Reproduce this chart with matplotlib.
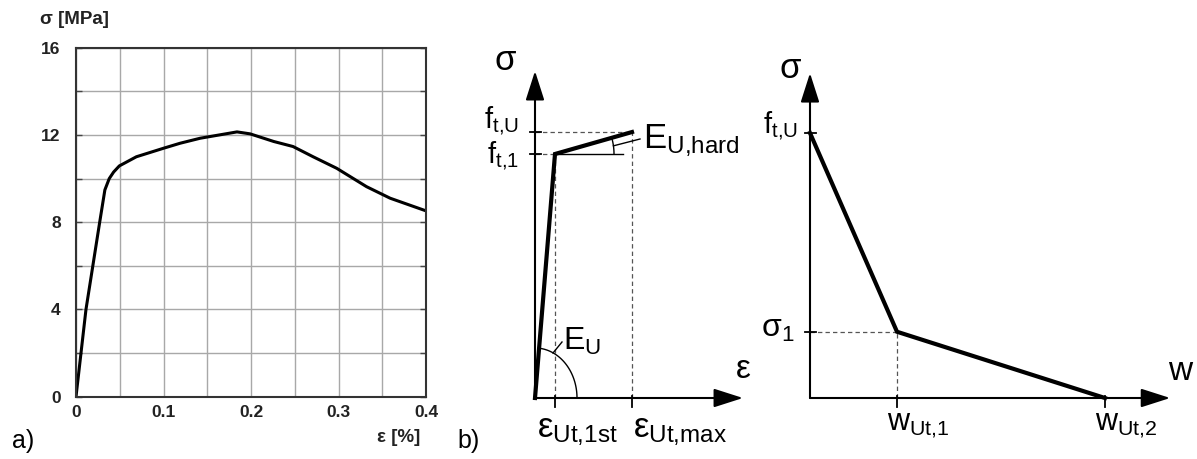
import numpy as np
import matplotlib
matplotlib.use("Agg")
import matplotlib.pyplot as plt

plt.rcParams['font.family'] = ['Liberation Sans', 'DejaVu Sans']
plt.rcParams['mathtext.fontset'] = 'custom'
plt.rcParams['mathtext.rm'] = 'Liberation Sans'
plt.rcParams['mathtext.it'] = 'Liberation Sans'
plt.rcParams['mathtext.bf'] = 'Liberation Sans:bold'

# ---- panel a: measured stress-strain curve ----
strain = [0.0, 0.0114, 0.027, 0.033, 0.038, 0.043, 0.0495, 0.069, 0.100, 0.119,
          0.142, 0.184, 0.199, 0.226, 0.248, 0.271, 0.298, 0.332, 0.359, 0.400]
stress = [0.0, 4.0, 7.98, 9.48, 10.0, 10.3, 10.58, 11.0, 11.39, 11.62,
          11.85, 12.14, 12.05, 11.70, 11.47, 11.0, 10.47, 9.63, 9.10, 8.52]
x_ticks = [0, 0.1, 0.2, 0.3, 0.4]
x_labels = ['0', '0.1', '0.2', '0.3', '0.4']
y_ticks = [0, 4, 8, 12, 16]

# ---- panel b: tensile model (schematic units) ----
eps_pts = [0.0, 1.0, 4.85]      # 0, eps_Ut,1st, eps_Ut,max
sig_pts = [0.0, 10.0, 10.9]     # 0, f_t,1, f_t,U

# ---- panel c: softening model (schematic units) ----
w_pts = [0.0, 1.0, 3.39]        # 0, w_Ut,1, w_Ut,2
sw_pts = [1.0, 0.25, 0.0]       # f_t,U, sigma_1, 0

W, H = 1197, 459
fig = plt.figure(figsize=(W / 100, H / 100), dpi=100)


def rect(x0, y0, x1, y1):
    # pixel box (top-left origin) -> figure fraction
    return [x0 / W, 1 - y1 / H, (x1 - x0) / W, (y1 - y0) / H]


# ================= a) =================
ax = fig.add_axes(rect(76, 47.7, 426, 396.7))
ax.plot(strain, stress, color='black', lw=2.2, solid_joinstyle='round')
ax.set_xlim(0, 0.4)
ax.set_ylim(0, 16)
ax.set_xticks(x_ticks)
ax.set_xticklabels(x_labels)
ax.set_yticks(y_ticks)
ax.set_xticks(np.arange(0.05, 0.4, 0.1), minor=True)
ax.set_yticks(np.arange(2, 16, 4), minor=True)
ax.grid(True, which='both', color='#a8a8a8', lw=1.0)
ax.set_axisbelow(True)
ax.tick_params(which='both', direction='in', length=4, width=1, color='#444',
               left=True, right=True, top=False, bottom=False)
ax.tick_params(axis='y', pad=11, labelsize=12.5)
ax.tick_params(axis='x', pad=6, labelsize=12.5)
for lab in ax.get_xticklabels() + ax.get_yticklabels():
    lab.set_fontweight('bold')
    lab.set_color('#222')
for s in ax.spines.values():
    s.set_linewidth(1.5)
    s.set_color('#333')

fig.text(40 / W, 1 - 19 / H, 'σ [MPa]', fontsize=13.5, fontweight='bold',
         ha='left', va='center', color='#222')
fig.text(420 / W, 1 - 438 / H, 'ε [%]', fontsize=13.5, fontweight='bold',
         ha='right', va='center', color='#222')
fig.text(12 / W, 1 - 441 / H, 'a)', fontsize=18, ha='left', va='center')
fig.text(457 / W, 1 - 441 / H, 'b)', fontsize=18, ha='left', va='center')

dash_kw = dict(color='#555', lw=0.9, dashes=(3.5, 2.5), clip_on=False)
arrow_kw = dict(arrowstyle='-|>,head_length=1.0,head_width=0.32',
                mutation_scale=18, color='black', lw=1.5, shrinkA=0, shrinkB=0)


def schematic_axes(ax, xend, yend):
    ax.set_axis_off()
    ax.annotate('', xy=(xend, 0), xytext=(0, 0), arrowprops=arrow_kw,
                annotation_clip=False)
    ax.annotate('', xy=(0, yend), xytext=(0, 0), arrowprops=arrow_kw,
                annotation_clip=False)


# ================= b) =================
bx = fig.add_axes(rect(535, 40, 760, 398))
px_x, px_y = 20.0, 24.4           # pixels per schematic unit
bx.set_xlim(0, 225 / px_x)
bx.set_ylim(0, 358 / px_y)
schematic_axes(bx, 10.4, 13.4)

e1, emax = eps_pts[1], eps_pts[2]
ft1, ftu = sig_pts[1], sig_pts[2]
bx.plot([0, emax], [ftu, ftu], **dash_kw)
bx.plot([0, e1], [ft1, ft1], **dash_kw)
bx.plot([e1, e1], [0, ft1], **dash_kw)
bx.plot([emax, emax], [0, ftu], **dash_kw)
bx.plot(eps_pts, sig_pts, color='black', lw=3.0, clip_on=False,
        solid_joinstyle='miter')

# tick marks
for yv in (ftu, ft1):
    bx.plot([-5 / px_x, 6 / px_x], [yv, yv], color='black', lw=1.3, clip_on=False)
for xv in (e1, emax):
    bx.plot([xv, xv], [-9 / px_y, 2 / px_y], color='black', lw=1.3, clip_on=False)

# E_U arc and leader
t = np.linspace(0, np.arctan2(sig_pts[1] * px_y, eps_pts[1] * px_x), 60)
bx.plot(42 / px_x * np.cos(t), 50 / px_y * np.sin(t), color='black', lw=1.0,
        clip_on=False)
bx.plot([18 / px_x, 27 / px_x], [45 / px_y, 56 / px_y],
        color='black', lw=1.0, clip_on=False)

# hardening reference line, arc and leader
bx.plot([e1, 4.4], [ft1, ft1], color='black', lw=1.0, clip_on=False)
ang = np.arctan2((ftu - ft1) * px_y, (emax - e1) * px_x)
t = np.linspace(0, ang, 20)
bx.plot(e1 + 59 / px_x * np.cos(t), ft1 + 59 / px_y * np.sin(t), color='black',
        lw=1.0, clip_on=False)
tm = ang * 0.5
bx.plot([e1 + 59 / px_x * np.cos(tm), (640 - 535) / px_x],
        [ft1 + 59 / px_y * np.sin(tm), (398 - 139) / px_y],
        color='black', lw=1.0, clip_on=False)

txt_kw = dict(textcoords='offset pixels', annotation_clip=False)
bx.annotate('σ', xy=(0, 0), xytext=(-30, 338), fontsize=25, ha='center',
            va='center', **txt_kw)
bx.annotate('ε', xy=(0, 0), xytext=(208, 28), fontsize=24, ha='center',
            va='center', **txt_kw)
bx.annotate(r'$\mathrm{f}_{\mathrm{t{,}U}}$', xy=(0, ftu), xytext=(-16, 4),
            fontsize=21, ha='right', va='baseline', **txt_kw)
bx.annotate(r'$\mathrm{f}_{\mathrm{t{,}1}}$', xy=(0, ft1), xytext=(-16, -9),
            fontsize=21, ha='right', va='baseline', **txt_kw)
bx.annotate(r'$\varepsilon_{\mathrm{Ut{,}1st}}$', xy=(e1, 0), xytext=(-18, -39),
            fontsize=25, ha='left', va='baseline', **txt_kw)
bx.annotate(r'$\varepsilon_{\mathrm{Ut{,}max}}$', xy=(emax, 0), xytext=(1, -39),
            fontsize=25, ha='left', va='baseline', **txt_kw)
bx.annotate(r'$\mathrm{E}_{\mathrm{U}}$', xy=(0, 0), xytext=(28, 48),
            fontsize=23, ha='left', va='baseline', **txt_kw)
bx.annotate(r'$\mathrm{E}_{\mathrm{U{,}hard}}$', xy=(0, 0), xytext=(108, 250),
            fontsize=25, ha='left', va='baseline', **txt_kw)

# ================= c) =================
cx = fig.add_axes(rect(810, 40, 1190, 398))
qx, qy = 87.0, 265.0
cx.set_xlim(0, 380 / qx)
cx.set_ylim(0, 358 / qy)
schematic_axes(cx, 4.14, 1.226)

w1, w2 = w_pts[1], w_pts[2]
s1 = sw_pts[1]
cx.plot([0, w1], [s1, s1], **dash_kw)
cx.plot([w1, w1], [0, s1], **dash_kw)
cx.plot(w_pts, sw_pts, color='black', lw=3.0, clip_on=False,
        solid_joinstyle='miter')
for yv in (sw_pts[0], s1):
    cx.plot([-5 / qx, 6 / qx], [yv, yv], color='black', lw=1.3, clip_on=False)
for xv in (w1, w2):
    cx.plot([xv, xv], [-9 / qy, 2 / qy], color='black', lw=1.3, clip_on=False)

cx.annotate('σ', xy=(0, 0), xytext=(-20, 330), fontsize=25, ha='center',
            va='center', **txt_kw)
cx.annotate('w', xy=(0, 0), xytext=(370, 26), fontsize=24, ha='center',
            va='center', **txt_kw)
cx.annotate(r'$\mathrm{f}_{\mathrm{t{,}U}}$', xy=(0, sw_pts[0]), xytext=(-12, 0),
            fontsize=21, ha='right', va='baseline', **txt_kw)
cx.annotate(r'$\mathrm{\sigma}_{\mathrm{1}}$', xy=(0, s1), xytext=(-16, -5),
            fontsize=23, ha='right', va='baseline', **txt_kw)
cx.annotate(r'$\mathrm{w}_{\mathrm{Ut{,}1}}$', xy=(w1, 0), xytext=(-10, -32),
            fontsize=22, ha='left', va='baseline', **txt_kw)
cx.annotate(r'$\mathrm{w}_{\mathrm{Ut{,}2}}$', xy=(w2, 0), xytext=(-10, -32),
            fontsize=22, ha='left', va='baseline', **txt_kw)

fig.savefig('out.png', dpi=100)
